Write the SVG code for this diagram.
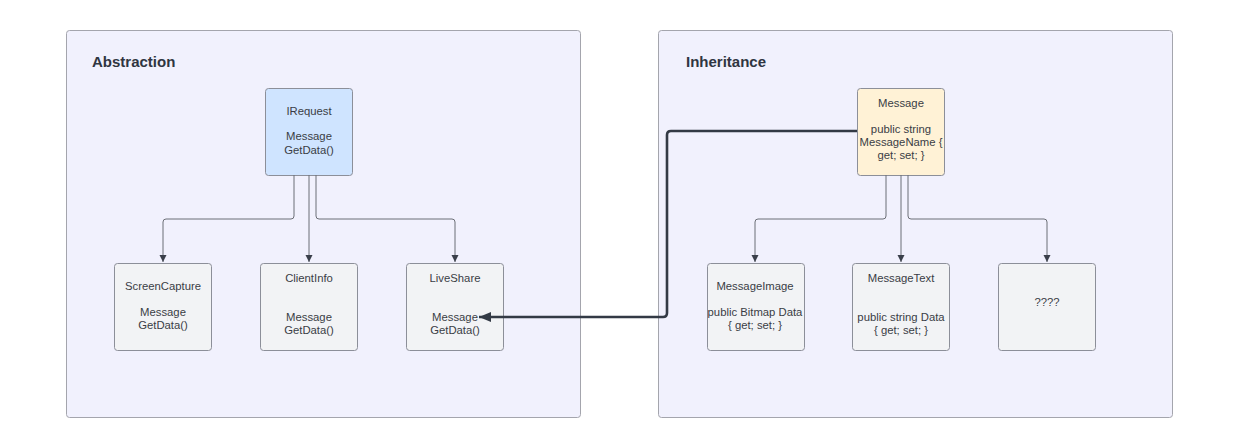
<svg xmlns="http://www.w3.org/2000/svg" width="1239" height="448" viewBox="0 0 1239 448">
<defs>
<style>
.cont{fill:#f1f1fd;stroke:#a4a5ad;stroke-width:1}
.title{font-family:"Liberation Sans",Arial,sans-serif;font-weight:bold;font-size:15px;fill:#2f3541}
.box{stroke:#8c8f99;stroke-width:1}
.gray{fill:#f2f3f5}
.blue{fill:#cfe4ff}
.yellow{fill:#fff2d6}
.t{font-family:"Liberation Sans",Arial,sans-serif;font-size:11.3px;fill:#3a3d45;text-anchor:middle}
.thin{fill:none;stroke:#6b6e76;stroke-width:1}
.thick{fill:none;stroke:#333a45;stroke-width:2.6}
</style>
<marker id="ah" markerWidth="8" markerHeight="8" refX="7" refY="4" orient="auto" markerUnits="userSpaceOnUse">
<path d="M0,0.5 L7,4 L0,7.5 Z" fill="#3a3f4a"/>
</marker>
<marker id="ahb" markerWidth="14" markerHeight="12" refX="12" refY="6" orient="auto" markerUnits="userSpaceOnUse">
<path d="M0,1 L12,6 L0,11 Z" fill="#333a45"/>
</marker>
</defs>

<g id="abstraction">
<rect class="cont" x="66.5" y="30.5" width="514" height="387" rx="3"/>
<text class="title" x="92" y="67">Abstraction</text>
</g>
<g id="inheritance">
<rect class="cont" x="658.5" y="30.5" width="514" height="387" rx="3"/>
<text class="title" x="686" y="67">Inheritance</text>
</g>

<g id="irequest">
<rect class="box blue" x="265.5" y="88.5" width="87" height="87" rx="3"/>
<text class="t" x="309" y="115">IRequest</text>
<text class="t" x="309" y="140">Message</text>
<text class="t" x="309" y="154">GetData()</text>
</g>
<g id="screencapture">
<rect class="box gray" x="114.5" y="263.5" width="97" height="87" rx="3"/>
<text class="t" x="163" y="290">ScreenCapture</text>
<text class="t" x="163" y="316">Message</text>
<text class="t" x="163" y="329">GetData()</text>
</g>
<g id="clientinfo">
<rect class="box gray" x="260.5" y="263.5" width="97" height="87" rx="3"/>
<text class="t" x="309" y="282">ClientInfo</text>
<text class="t" x="309" y="321">Message</text>
<text class="t" x="309" y="334">GetData()</text>
</g>
<g id="liveshare">
<rect class="box gray" x="406.5" y="263.5" width="97" height="87" rx="3"/>
<text class="t" x="455" y="282">LiveShare</text>
<text class="t" x="455" y="321">Message</text>
<text class="t" x="455" y="334">GetData()</text>
</g>

<g id="message">
<rect class="box yellow" x="857.5" y="88.5" width="87" height="87" rx="3"/>
<text class="t" x="901" y="107">Message</text>
<text class="t" x="901" y="133">public string</text>
<text class="t" x="901" y="146">MessageName {</text>
<text class="t" x="901" y="159">get; set; }</text>
</g>
<g id="messageimage">
<rect class="box gray" x="707.5" y="263.5" width="97" height="87" rx="3"/>
<text class="t" x="755" y="290">MessageImage</text>
<text class="t" x="755" y="316">public Bitmap Data</text>
<text class="t" x="755" y="329">{ get; set; }</text>
</g>
<g id="messagetext">
<rect class="box gray" x="852.5" y="263.5" width="97" height="87" rx="3"/>
<text class="t" x="901" y="282">MessageText</text>
<text class="t" x="901" y="321">public string Data</text>
<text class="t" x="901" y="334">{ get; set; }</text>
</g>
<g id="unknown">
<rect class="box gray" x="998.5" y="263.5" width="97" height="87" rx="3"/>
<text class="t" x="1047" y="306">????</text>
</g>

<g id="connectors">
<path class="thin" d="M294,175 V216 Q294,219 291,219 H166 Q163,219 163,222 V262" marker-end="url(#ah)"/>
<path class="thin" d="M309,175 V262" marker-end="url(#ah)"/>
<path class="thin" d="M316,175 V216 Q316,219 319,219 H452 Q455,219 455,222 V262" marker-end="url(#ah)"/>
<path class="thin" d="M886,175 V216 Q886,219 883,219 H758 Q755,219 755,222 V262" marker-end="url(#ah)"/>
<path class="thin" d="M901,175 V262" marker-end="url(#ah)"/>
<path class="thin" d="M908,175 V216 Q908,219 911,219 H1044 Q1047,219 1047,222 V262" marker-end="url(#ah)"/>
<path class="thick" d="M857,131 H671 Q667,131 667,135 V313 Q667,317 663,317 H479" marker-end="url(#ahb)"/>
</g>
</svg>
